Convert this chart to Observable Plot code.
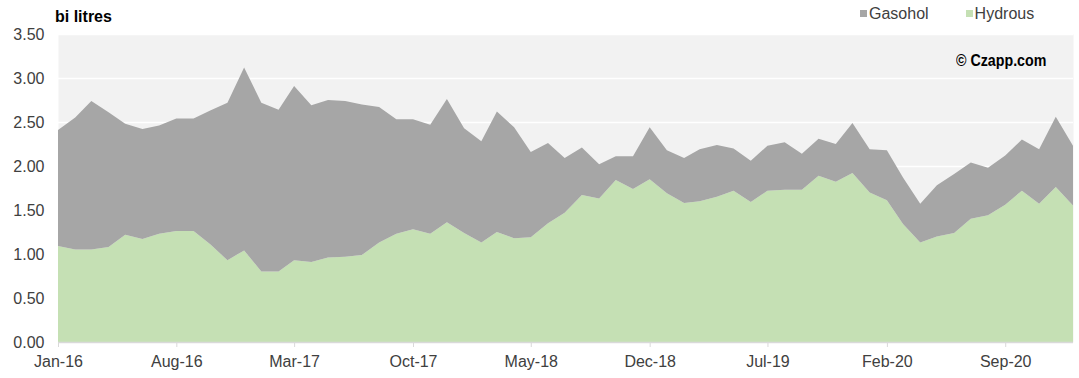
<!DOCTYPE html>
<html>
<head>
<meta charset="utf-8">
<script src="https://cdn.jsdelivr.net/npm/d3@7"></script>
<script src="https://cdn.jsdelivr.net/npm/@observablehq/plot@0.6"></script>
<style>
  html, body { margin: 0; padding: 0; background: #fff; }
  #wrap { position: relative; width: 1079px; height: 378px; font-family: "Liberation Sans", Arial, sans-serif; color: #404040; }
  #title { position: absolute; left: 55px; top: 8px; font-size: 16px; font-weight: bold; color: #000; }
  #legend { position: absolute; left: 860px; top: 5px; font-size: 16px; color: #404040; white-space: nowrap; }
  #legend span.sw { display: inline-block; width: 7px; height: 7px; margin-right: 2px; vertical-align: 2px; }
  #legend span.item { margin-right: 37px; }
  #wm { position: absolute; left: 956px; top: 52px; font-family: "Liberation Sans Narrow", "Arial Narrow", "Liberation Sans", sans-serif; font-weight: bold; font-size: 16px; color: #000; transform: scaleX(0.89); transform-origin: left top; white-space: nowrap; }
</style>
</head>
<body>
<div id="wrap">
  <div id="chart"></div>
  <div id="title">bi litres</div>
  <div id="legend"></div>
  <div id="wm">© Czapp.com</div>
</div>
<script>
// Monthly series, Jan-16 .. Jan-21 (bi litres)
const startMonth = "2016-01";
const hydrous = [
  1.09, 1.05, 1.05, 1.08, 1.22, 1.17, 1.23, 1.26, 1.26, 1.11,
  0.93, 1.04, 0.80, 0.80, 0.93, 0.91, 0.96, 0.97, 0.99, 1.13,
  1.23, 1.28, 1.23, 1.36, 1.24, 1.13, 1.25, 1.18, 1.19, 1.35,
  1.47, 1.67, 1.63, 1.84, 1.74, 1.85, 1.69, 1.58, 1.60, 1.65,
  1.72, 1.59, 1.72, 1.73, 1.73, 1.89, 1.82, 1.92, 1.70, 1.61,
  1.34, 1.13, 1.20, 1.24, 1.40, 1.44, 1.56, 1.72, 1.57, 1.76,
  1.55
];
const gasohol = [
  1.32, 1.50, 1.69, 1.53, 1.26, 1.25, 1.23, 1.28, 1.28, 1.52,
  1.79, 2.08, 1.92, 1.84, 1.98, 1.78, 1.79, 1.77, 1.71, 1.54,
  1.30, 1.25, 1.24, 1.40, 1.19, 1.15, 1.37, 1.26, 0.97, 0.91,
  0.62, 0.54, 0.39, 0.27, 0.37, 0.59, 0.49, 0.51, 0.59, 0.59,
  0.48, 0.47, 0.51, 0.54, 0.41, 0.42, 0.43, 0.57, 0.49, 0.57,
  0.53, 0.44, 0.58, 0.67, 0.64, 0.54, 0.56, 0.58, 0.62, 0.80,
  0.68
];
const seriesNames = ["Hydrous", "Gasohol"];
const seriesColors = ["#c5e0b4", "#a6a6a6"];
const tickMonths = ["2016-01", "2016-08", "2017-03", "2017-10", "2018-05", "2018-12", "2019-07", "2020-02", "2020-09"];
const tickLabels = ["Jan-16", "Aug-16", "Mar-17", "Oct-17", "May-18", "Dec-18", "Jul-19", "Feb-20", "Sep-20"];
const yTicks = [0, 0.5, 1, 1.5, 2, 2.5, 3, 3.5];

const parseMonth = d3.utcParse("%Y-%m");
const start = parseMonth(startMonth);
const months = hydrous.map((_, i) => d3.utcMonth.offset(start, i));
const rows = [];
months.forEach((d, i) => {
  rows.push({date: d, type: "Hydrous", value: hydrous[i]});
  rows.push({date: d, type: "Gasohol", value: gasohol[i]});
});
const tickDates = tickMonths.map(parseMonth);
const labelOf = new Map(tickDates.map((d, i) => [+d, tickLabels[i]]));

const chart = Plot.plot({
  width: 1079,
  height: 378,
  marginTop: 34,
  marginBottom: 36,
  marginLeft: 58,
  marginRight: 6,
  style: {fontFamily: "'Liberation Sans', Arial, sans-serif", fontSize: "16px", background: "transparent", color: "#404040"},
  x: {type: "utc", domain: [months[0], months[months.length - 1]]},
  y: {domain: [0, 3.5]},
  color: {domain: seriesNames, range: seriesColors},
  marks: [
    Plot.frame({fill: "#f2f2f2", stroke: null}),
    Plot.gridY(yTicks, {stroke: "#ffffff", strokeOpacity: 1, strokeWidth: 1.5}),
    Plot.areaY(rows, {x: "date", y: "value", fill: "type", order: null}),
    Plot.ruleY([0], {stroke: "#d9d9d9", strokeWidth: 1.5}),
    Plot.axisX(tickDates, {tickSize: 5, tickPadding: 8, tickFormat: d => labelOf.get(+d), stroke: "#d9d9d9", fill: "#404040", label: null, fontSize: 16}),
    Plot.axisY(yTicks, {tickSize: 0, tickPadding: 14, tickFormat: d => d.toFixed(2), fill: "#404040", label: null, fontSize: 16})
  ]
});
document.getElementById("chart").appendChild(chart);

const legend = document.getElementById("legend");
["Gasohol", "Hydrous"].forEach(name => {
  const item = document.createElement("span");
  item.className = "item";
  const sw = document.createElement("span");
  sw.className = "sw";
  sw.style.background = seriesColors[seriesNames.indexOf(name)];
  item.appendChild(sw);
  item.appendChild(document.createTextNode(name));
  legend.appendChild(item);
});
</script>
</body>
</html>
